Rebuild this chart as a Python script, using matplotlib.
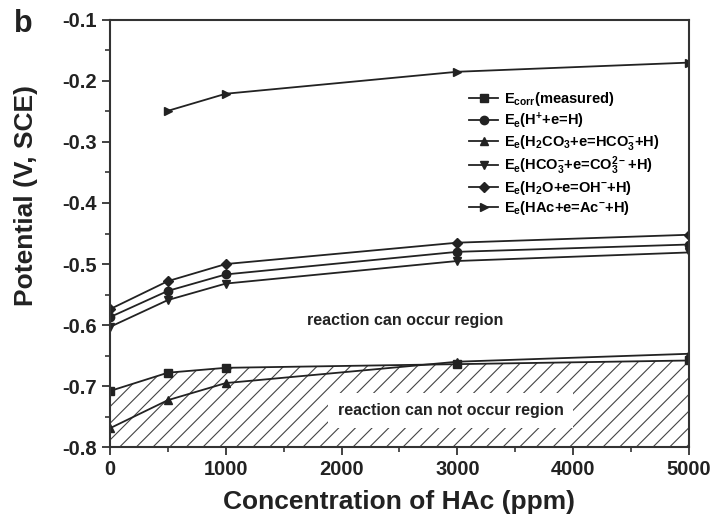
import numpy as np
import matplotlib
matplotlib.use("Agg")
import matplotlib.pyplot as plt
from matplotlib.ticker import MultipleLocator

plt.rcParams['font.family'] = ['Liberation Sans', 'DejaVu Sans']
plt.rcParams['font.weight'] = 'bold'
plt.rcParams['axes.labelweight'] = 'bold'
plt.rcParams['mathtext.fontset'] = 'custom'
plt.rcParams['mathtext.rm'] = 'Liberation Sans:bold'
plt.rcParams['mathtext.bf'] = 'Liberation Sans:bold'
plt.rcParams['mathtext.default'] = 'bf'
plt.rcParams['hatch.linewidth'] = 0.8
plt.rcParams['hatch.color'] = '#333333'

# HAc concentration (ppm)
conc = [0, 500, 1000, 3000, 5000]
conc_hac = [500, 1000, 3000, 5000]

e_corr = [-0.708, -0.678, -0.670, -0.664, -0.658]
e_h = [-0.587, -0.544, -0.517, -0.480, -0.468]
e_h2co3 = [-0.769, -0.723, -0.695, -0.660, -0.647]
e_hco3 = [-0.603, -0.559, -0.532, -0.495, -0.481]
e_h2o = [-0.574, -0.528, -0.500, -0.465, -0.452]
e_hac = [-0.249, -0.221, -0.185, -0.170]

labels = [
    r'E$_{corr}$(measured)',
    r'E$_{e}$(H$^{+}$+e=H)',
    r'E$_{e}$(H$_{2}$CO$_{3}$+e=HCO$_{3}^{-}$+H)',
    r'E$_{e}$(HCO$_{3}^{-}$+e=CO$_{3}^{2-}$+H)',
    r'E$_{e}$(H$_{2}$O+e=OH$^{-}$+H)',
    r'E$_{e}$(HAc+e=Ac$^{-}$+H)',
]

fig = plt.figure(figsize=(7.14, 5.23), dpi=100)
ax = fig.add_axes([0.154, 0.145, 0.811, 0.817])

lc = '#222222'
kw = dict(color=lc, lw=1.3, ms=6)
ax.plot(conc, e_corr, marker='s', label=labels[0], **kw)
ax.plot(conc, e_h, marker='o', label=labels[1], **kw)
ax.plot(conc, e_h2co3, marker='^', label=labels[2], **kw)
ax.plot(conc, e_hco3, marker='v', label=labels[3], **kw)
ax.plot(conc, e_h2o, marker='D', label=labels[4], ms=5.5, color=lc, lw=1.3)
ax.plot(conc_hac, e_hac, marker='>', label=labels[5], **kw)

# hatched region below the measured corrosion potential
ax.fill_between(conc, e_corr, -0.8, facecolor='none', edgecolor='#444444',
                hatch='//', linewidth=0, zorder=0)

ax.text(2550, -0.592, 'reaction can occur region', ha='center', va='center',
        fontsize=11.5, color='#222222')
ax.text(2940, -0.740, 'reaction can not occur region', ha='center', va='center',
        fontsize=11.5, color='#222222',
        bbox=dict(facecolor='white', edgecolor='none', pad=7))

ax.set_xlim(0, 5000)
ax.set_ylim(-0.8, -0.1)
ax.xaxis.set_major_locator(MultipleLocator(1000))
ax.xaxis.set_minor_locator(MultipleLocator(500))
ax.yaxis.set_major_locator(MultipleLocator(0.1))
ax.yaxis.set_minor_locator(MultipleLocator(0.05))
ax.tick_params(which='major', direction='out', length=6, width=1.3,
               labelsize=14.5, colors='#333333', labelcolor='#222222')
ax.tick_params(which='minor', direction='out', length=3.5, width=1.2,
               colors='#333333')
ax.yaxis.set_major_formatter(plt.FuncFormatter(lambda v, p: f'{v:.1f}'))
for s in ax.spines.values():
    s.set_linewidth(1.5)
    s.set_color('#333333')

ax.set_xlabel('Concentration of HAc (ppm)', fontsize=19, labelpad=8,
              color='#222222')
ax.set_ylabel('Potential (V, SCE)', fontsize=19, color='#222222')
ax.yaxis.set_label_coords(-0.125, 0.59)

leg = ax.legend(loc='upper left', bbox_to_anchor=(0.62, 0.835), frameon=False,
                fontsize=10.5, handlelength=2.0, handletextpad=0.4,
                labelspacing=0.15, borderaxespad=0, borderpad=0)

fig.text(0.02, 0.955, 'b', fontsize=22, fontweight='bold', va='center',
         color='#222222')

fig.savefig('out.png', dpi=100)
